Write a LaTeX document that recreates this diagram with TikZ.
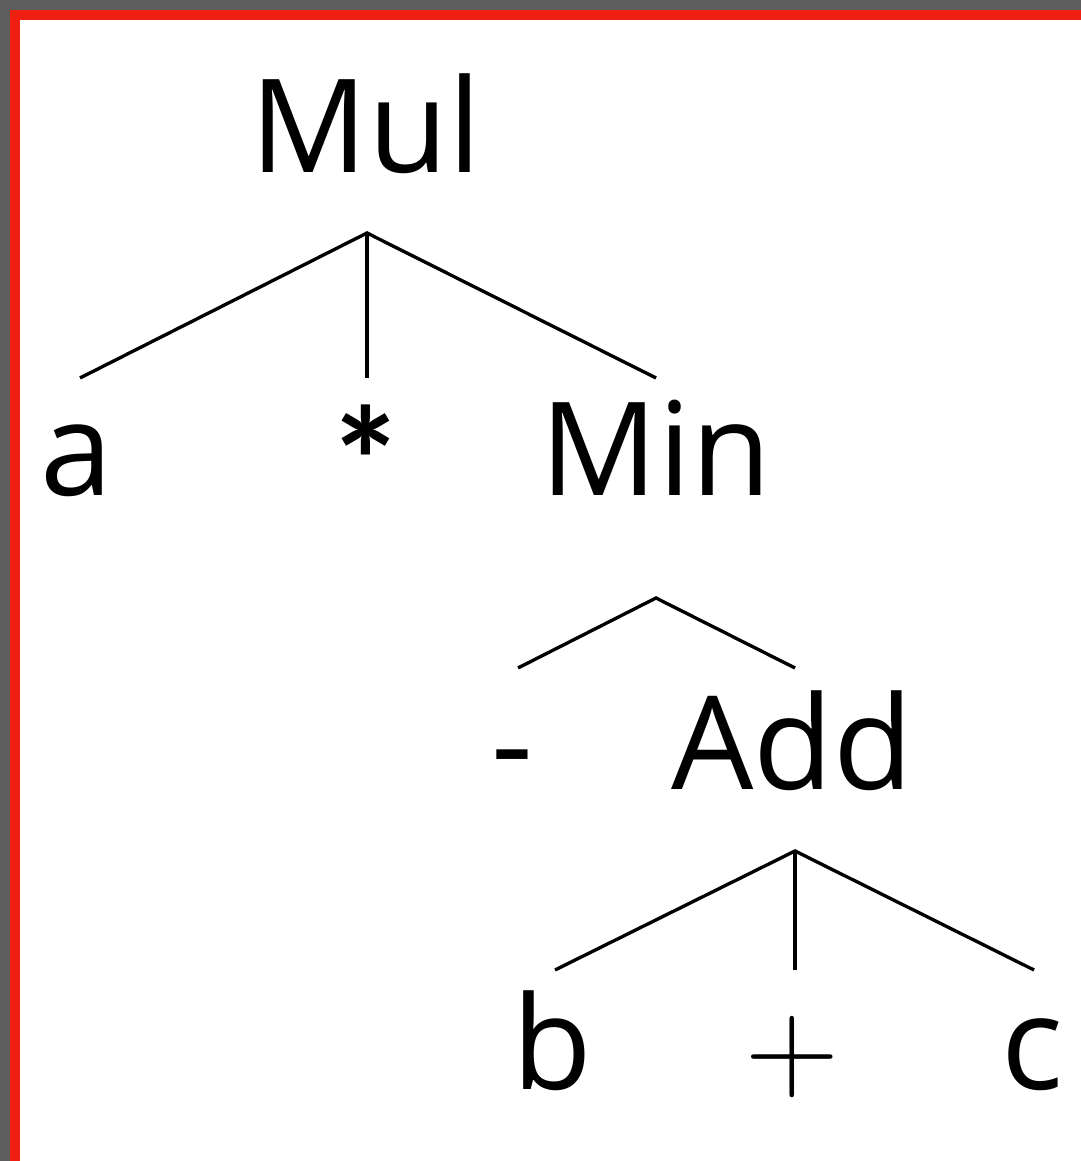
\documentclass[tikz,border=0pt]{standalone}
\usepackage{fontspec}
\setmainfont{Open Sans}
\newfontfamily\starfont{Carlito}
\newfontfamily\plusfont{Latin Modern Roman}
\definecolor{frame}{RGB}{238,32,16}
\definecolor{edge}{RGB}{94,94,94}
\tikzset{
  lbl/.style={anchor=base, inner sep=0pt, font=\fontsize{37}{44}\selectfont},
  branch/.style={line width=0.95pt}
}
\begin{document}
\begin{tikzpicture}
%----------------- frame -----------------
\fill[edge] (0,0) rectangle (10.81,11.61);
\fill[frame] (0.10,0) rectangle (10.81,11.51);
\fill[white] (0.20,0) rectangle (10.81,11.41);
\useasboundingbox (0,0) rectangle (10.81,11.61);
%----------------- labels -----------------
\node[lbl] (mul) at (3.66,9.88) {Mul};
\node[lbl] (a) at (0.77,6.65) {a};
\node[lbl, font=\starfont\bfseries\fontsize{44}{50}\selectfont] (star) at (3.66,6.45) {*};
\node[lbl] (min) at (6.56,6.65) {Min};
\node[lbl] (minus) at (5.12,3.71) {-};
\node[lbl] (add) at (7.92,3.71) {Add};
\node[lbl] (b) at (5.52,0.71) {b};
\node[lbl, font=\plusfont\fontsize{37}{44}\selectfont] (plus) at (7.92,0.71) {+};
\node[lbl] (c) at (10.32,0.71) {c};
%----------------- branch points -----------------
\coordinate (mulTop) at (3.67,9.28);
\coordinate (aTop) at (0.80,7.83);
\coordinate (starTop) at (3.67,7.83);
\coordinate (minTop) at (6.56,7.83);
\coordinate (minRoot) at (6.56,5.63);
\coordinate (minusTop) at (5.18,4.93);
\coordinate (addTop) at (7.95,4.93);
\coordinate (addRoot) at (7.95,3.10);
\coordinate (bTop) at (5.55,1.91);
\coordinate (plusTop) at (7.95,1.91);
\coordinate (cTop) at (10.34,1.91);
%----------------- branches -----------------
\draw[branch] (aTop) -- (mulTop) -- (minTop);
\draw[branch] (mulTop) -- (starTop);
\draw[branch] (minusTop) -- (minRoot) -- (addTop);
\draw[branch] (bTop) -- (addRoot) -- (cTop);
\draw[branch] (addRoot) -- (plusTop);
\end{tikzpicture}
\end{document}
